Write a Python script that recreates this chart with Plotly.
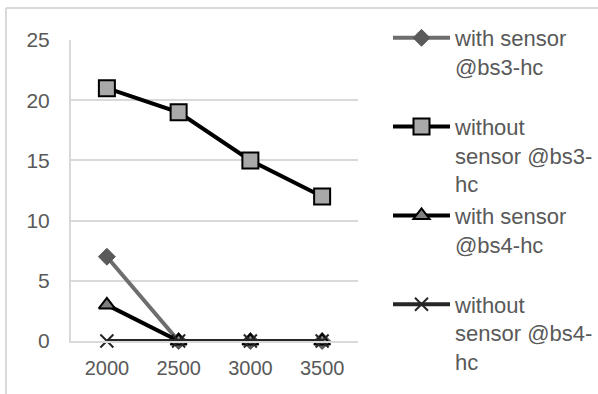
import plotly.graph_objects as go

# Category axis and series values
categories = ["2000", "2500", "3000", "3500"]
with_sensor_bs3 = [7, 0, 0, 0]
without_sensor_bs3 = [21, 19, 15, 12]
with_sensor_bs4 = [3, 0, 0, 0]
without_sensor_bs4 = [0, 0, 0, 0]

series_names = [
    "with sensor<br>@bs3-hc<br>\u00a0",
    "without<br>sensor @bs3-<br>hc",
    "with sensor<br>@bs4-hc<br>\u00a0",
    "without<br>sensor @bs4-<br>hc",
]

TEXT = "#595959"
GRID = "#d9d9d9"

fig = go.Figure()

fig.add_trace(go.Scatter(
    x=categories, y=with_sensor_bs3, name=series_names[0], legendgroup="a",
    mode="lines+markers", cliponaxis=False,
    line=dict(color="#6e6e6e", width=4),
    marker=dict(symbol="diamond", size=13, color="#5a5a5a",
                line=dict(color="#5a5a5a", width=1)),
))
fig.add_trace(go.Scatter(
    x=categories, y=without_sensor_bs3, name=series_names[1], legendgroup="b",
    mode="lines+markers", cliponaxis=False,
    line=dict(color="#000000", width=4),
    marker=dict(symbol="square", size=16, color="#a9a9a9",
                line=dict(color="#000000", width=2)),
))
fig.add_trace(go.Scatter(
    x=categories, y=with_sensor_bs4, name=series_names[2], legendgroup="c",
    mode="lines+markers", cliponaxis=False,
    line=dict(color="#000000", width=4),
    marker=dict(symbol="triangle-up", size=14, color="#7f7f7f",
                line=dict(color="#000000", width=2)),
))
fig.add_trace(go.Scatter(
    x=categories, y=without_sensor_bs4, name=series_names[3], legendgroup="d",
    mode="lines+markers", cliponaxis=False,
    line=dict(color="#262626", width=4),
    marker=dict(symbol="x-thin", size=13, color="#262626",
                line=dict(color="#262626", width=2)),
))

L, R, T, B = 71, 240, 40, 53
W, H = 598, 394
pw, ph = W - L - R, H - T - B

# Outer chart frame (top and left edges)
fx = (6 - L) / pw
fy = 1 + (T - 8) / ph
fig.add_shape(type="line", xref="paper", yref="paper", x0=fx, x1=(W - L) / pw,
              y0=fy, y1=fy, line=dict(color=GRID, width=2))
fig.add_shape(type="line", xref="paper", yref="paper", x0=fx, x1=fx,
              y0=fy, y1=-B / ph, line=dict(color=GRID, width=2))

fig.update_layout(
    width=W, height=H,
    margin=dict(l=L, r=R, t=T, b=B, autoexpand=False),
    paper_bgcolor="white", plot_bgcolor="white",
    font=dict(family="Liberation Sans, Arial, sans-serif", color=TEXT, size=18),
    showlegend=True,
    legend=dict(
        x=(388 - L) / pw, xanchor="left",
        y=1 + (T - 17) / ph, yanchor="top",
        font=dict(size=22, color=TEXT),
        valign="top",
        traceorder="grouped",
        tracegroupgap=0,
        itemwidth=57,
        maxheight=H,
        bgcolor="rgba(0,0,0,0)",
    ),
    xaxis=dict(
        type="category", range=[-0.5, 3.5],
        showgrid=False, showline=True, linecolor=GRID, linewidth=2,
        ticks="", tickfont=dict(size=20, color=TEXT),
        ticklabelstandoff=8,
    ),
    yaxis=dict(
        range=[0, 25], tickvals=[0, 5, 10, 15, 20, 25],
        showgrid=True, gridcolor=GRID, gridwidth=2,
        zeroline=False, showline=True, linecolor=GRID, linewidth=2,
        ticks="", tickfont=dict(size=21, color=TEXT),
        ticklabelstandoff=15,
    ),
)

fig.write_html("out.html")
